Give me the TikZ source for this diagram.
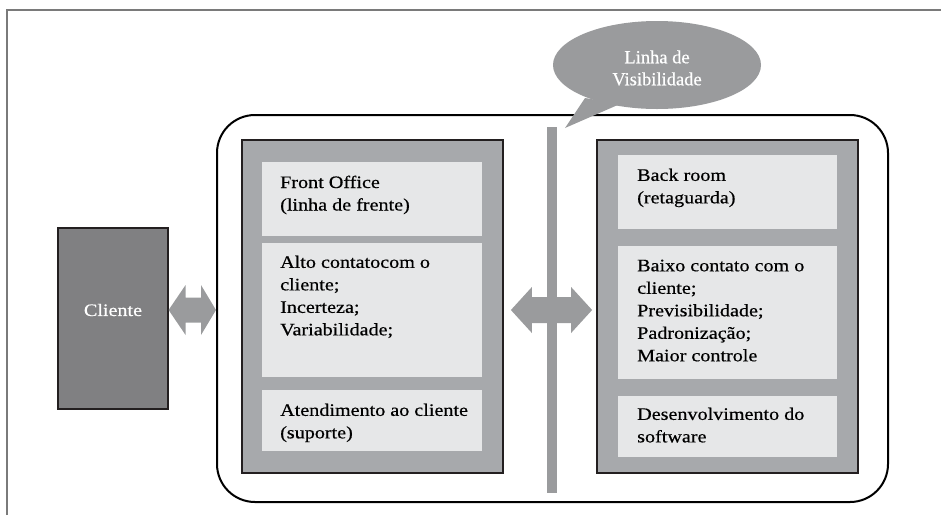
\documentclass[tikz,border=0pt]{standalone}
\usepackage{fontspec}
\setmainfont{Liberation Serif}[FakeStretch=1.15,FakeBold=0.5]
\newfontfamily\bubfont{Liberation Serif}[FakeBold=0.5]
\usetikzlibrary{calc,shapes.geometric}
\definecolor{framegrey}{HTML}{7A7A7A}
\definecolor{clientgrey}{HTML}{808082}
\definecolor{boxgrey}{HTML}{A7A9AC}
\definecolor{lightgrey}{HTML}{E6E7E8}
\definecolor{bubgrey}{HTML}{9A9B9D}
\definecolor{arrgrey}{HTML}{9A9B9D}
\definecolor{edgedark}{HTML}{231F20}
\tikzset{
  greybox/.style={draw=edgedark, line width=1.8pt, fill=boxgrey, minimum width=261pt, minimum height=333pt, inner sep=0pt},
  lightbox/.style={fill=lightgrey, draw=none, inner sep=0pt},
  txt/.style={anchor=north west, inner sep=0pt, align=left, font=\fontsize{17.5}{22.5}\selectfont, text=black},
}
\begin{document}
\begin{tikzpicture}[x=1pt,y=-1pt]
\useasboundingbox (0,0) rectangle (941,515);
% frame
\draw[framegrey, line width=1.5pt] (7,515) -- (7,10) -- (941,10);
% outer rounded box
\node[draw=black, line width=2pt, rounded corners=38pt, minimum width=671pt, minimum height=387pt, inner sep=0pt] (outer) at (552.5,308.5) {};
% cliente
\node[draw=edgedark, line width=1.2pt, fill=clientgrey, minimum width=110pt, minimum height=181pt, inner sep=0pt] (cli) at (113,318.5) {};
\node[text=white, inner sep=0pt, font=\fontsize{17.5}{22}\selectfont] (clitxt) at (113,310) {Cliente};
% grey boxes
\node[greybox] (lg) at (372.5,306.5) {};
\node[greybox] (rg) at (727.5,306.5) {};
% light boxes left
\node[lightbox, minimum width=220pt, minimum height=74pt] (l1) at (372,199) {};
\node[lightbox, minimum width=220pt, minimum height=134pt] (l2) at (372,310) {};
\node[lightbox, minimum width=220pt, minimum height=61pt] (l3) at (372,420.5) {};
% light boxes right
\node[lightbox, minimum width=219pt, minimum height=74pt] (r1) at (727.5,192) {};
\node[lightbox, minimum width=219pt, minimum height=133pt] (r2) at (727.5,312.5) {};
\node[lightbox, minimum width=219pt, minimum height=61pt] (r3) at (727.5,426.5) {};
% texts
\node[txt] (t1) at (280,175.5) {Front Office\\(linha de frente)};
\node[txt] (t2) at (280,255.5) {Alto contatocom o\\cliente;\\Incerteza;\\Variabilidade;};
\node[txt] (t3) at (280,403.5) {Atendimento ao cliente\\(suporte)};
\node[txt] (t4) at (637,168.5) {Back room\\(retaguarda)};
\node[txt] (t5) at (637,259.5) {Baixo contato com o\\cliente;\\Previsibilidade;\\Padronização;\\Maior controle};
\node[txt] (t6) at (637,407.5) {Desenvolvimento do\\software};
% visibility bar
\node[fill=arrgrey, minimum width=10pt, minimum height=366pt, inner sep=0pt] (bar) at (552,310) {};
% arrows
\fill[arrgrey] let \p1=(cli.east), \p2=(outer.west) in
  (\x1,310) -- (\x1+17,310+25) -- (\x1+17,310+12.5) -- (\x2-15,310+12.5) -- (\x2-15,310+25) -- (\x2,310)
  -- (\x2-15,310-25) -- (\x2-15,310-12.5) -- (\x1+17,310-12.5) -- (\x1+17,310-25) -- cycle;
\fill[arrgrey] let \p1=(lg.east), \p2=(rg.west) in
  (\x1+7,310) -- (\x1+28,310+23) -- (\x1+28,310+13) -- (\x2-25,310+13) -- (\x2-25,310+23) -- (\x2-4,310)
  -- (\x2-25,310-23) -- (\x2-25,310-13) -- (\x1+28,310-13) -- (\x1+28,310-23) -- cycle;
% bubble
\coordinate (tip) at (565,128);
\fill[bubgrey] (585,98) -- (tip) -- (620,104) -- cycle;
\node[ellipse, fill=bubgrey, minimum width=208pt, minimum height=88pt, inner sep=0pt] (bub) at (657,65) {};
\node[text=white, align=center, inner sep=0pt, font=\bubfont\fontsize{18.5}{22}\selectfont] (bubtxt) at (657,68) {Linha de\\Visibilidade};
\end{tikzpicture}
\end{document}
